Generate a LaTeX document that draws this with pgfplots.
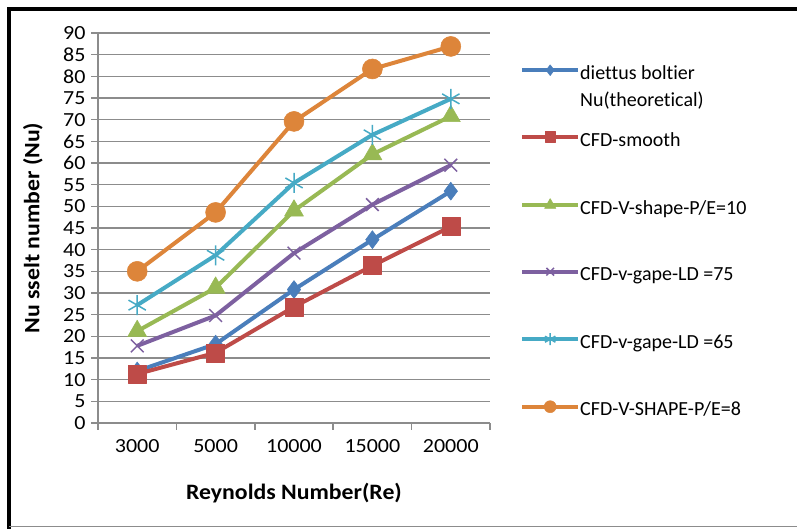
\documentclass[border=0pt]{standalone}
\usepackage{pgfplots}
\pgfplotsset{compat=1.18}
\usepackage{fontspec}
\setmainfont{Carlito}[Ligatures=NoCommon]
\newfontfamily\tickfont{Carlito}[FakeStretch=1.1]
\newfontfamily\labelfont{Carlito}[FakeStretch=1.08]
\definecolor{cblue}{HTML}{4A7EBB}
\definecolor{cred}{HTML}{BE4B48}
\definecolor{cgreen}{HTML}{98B954}
\definecolor{cpurple}{HTML}{7D60A0}
\definecolor{ccyan}{HTML}{46AAC5}
\definecolor{corange}{HTML}{DD853A}
\definecolor{gridgray}{HTML}{8C8C8C}
\begin{document}
\begin{tikzpicture}[x=1pt,y=1pt]
\useasboundingbox (0,0) rectangle (797,529);
\fill[white] (0,0) rectangle (797,529);
\draw[black, line width=4pt] (9,0) -- (9,520) -- (797,520);
\draw[gridgray, line width=1pt] (9,2) -- (797,2);
\begin{axis}[
  at={(98pt,106pt)}, anchor=south west,
  scale only axis, width=392pt, height=390pt,
  font=\fontsize{20}{24}\selectfont,
  /pgf/number format/assume math mode=true,
  xmin=-0.5, xmax=4.5, ymin=0, ymax=90,
  xtick={0,1,2,3,4},
  xticklabels={3000,5000,10000,15000,20000},
  minor xtick={-0.5,0.5,1.5,2.5,3.5,4.5},
  ytick={0,5,...,90},
  axis x line*=bottom, axis y line*=left,
  axis line style={gridgray, line width=1.5pt, -},
  tick align=outside,
  major tick length=7pt, minor tick length=7pt,
  major x tick style={draw=none},
  minor x tick style={gridgray, line width=1.5pt},
  ytick style={gridgray, line width=1.5pt},
  ymajorgrids, grid style={gridgray, line width=1.5pt},
  tick label style={font=\fontsize{20}{24}\tickfont},
  xticklabel style={yshift=-6pt},
  yticklabel style={xshift=-2pt},
  every axis y label/.style={at={(axis description cs:-0.166,0.5)}, rotate=90, anchor=center},
  every axis x label/.style={at={(axis description cs:0.5,-0.18)}, anchor=center},
  ylabel={\fontsize{22}{26}\labelfont\bfseries Nu sselt number (Nu)},
  xlabel={\fontsize{22}{26}\labelfont\bfseries Reynolds Number(Re)},
  line join=round,
  every axis plot/.append style={line width=4pt},
  legend cell align=left,
  legend style={draw=none, fill=none, at={(1.0765,0.919)}, anchor=north west,
    row sep=52.5pt, inner sep=0pt, font=\fontsize{20}{26}\selectfont,
    nodes={inner sep=0pt, text height=14pt, text depth=0pt, font=\fontsize{20}{26}\selectfont}},
  legend image code/.code={\draw[mark repeat=2,mark phase=2,#1,/tikz/every mark/.append style={scale=0.6}] plot coordinates {(0pt,2pt)(28pt,2pt)(56pt,2pt)};},
]
\addplot[cblue, mark=diamond*, mark size=9pt, mark options={solid, fill=cblue, line width=0.5pt}]
  coordinates {(0,12) (1,18.2) (2,30.8) (3,42.3) (4,53.5)};
\addlegendentry{\smash{\begin{tabular}[t]{@{}l@{}}diettus boltier\\[1pt]Nu(theoretical)\end{tabular}}}
\addplot[cred, mark=square*, mark size=9pt, mark options={solid, fill=cred, line width=0.5pt}]
  coordinates {(0,11.3) (1,16.2) (2,26.8) (3,36.3) (4,45.3)};
\addlegendentry{CFD-smooth}
\addplot[cgreen, mark=triangle*, mark size=11pt, mark options={solid, fill=cgreen, line width=0.5pt}]
  coordinates {(0,21.2) (1,31.2) (2,49) (3,62) (4,70.8)};
\addlegendentry{CFD-V-shape-P/E=10}
\addplot[cpurple, mark=x, mark size=9pt, mark options={solid, line width=1.5pt}]
  coordinates {(0,17.8) (1,24.8) (2,39.2) (3,50.4) (4,59.5)};
\addlegendentry{CFD-v-gape-LD =75}
\addplot[ccyan, mark=asterisk, mark size=10pt, mark options={solid, line width=1.5pt}]
  coordinates {(0,27.2) (1,38.7) (2,55.4) (3,66.5) (4,74.8)};
\addlegendentry{CFD-v-gape-LD =65}
\addplot[corange, mark=*, mark size=10pt, mark options={solid, fill=corange, line width=0.5pt}]
  coordinates {(0,35) (1,48.6) (2,69.6) (3,81.7) (4,86.9)};
\addlegendentry{CFD-V-SHAPE-P/E=8}
\end{axis}
\end{tikzpicture}
\end{document}
